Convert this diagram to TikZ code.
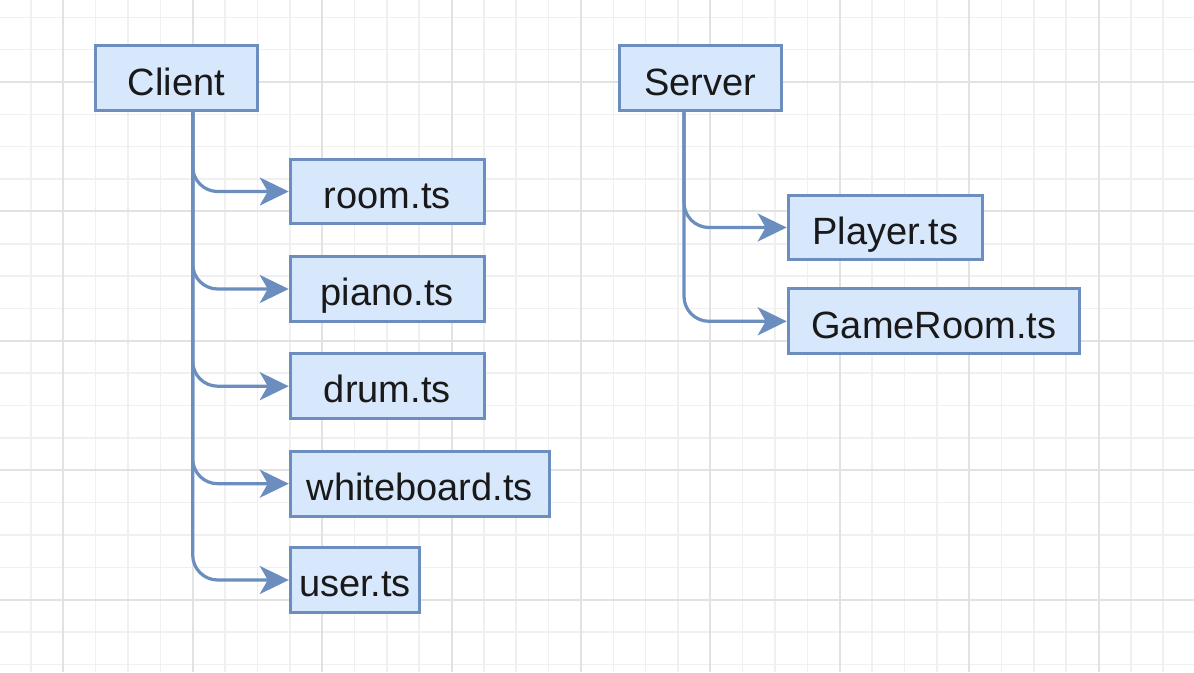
\documentclass[tikz,border=0pt]{standalone}
\usepackage{fontspec}
\setmainfont{Liberation Sans}
\usetikzlibrary{arrows.meta}
\definecolor{boxfill}{HTML}{D7E7FC}
\definecolor{boxline}{HTML}{6C8EBF}
\definecolor{gridminor}{HTML}{F0F0F0}
\definecolor{gridmajor}{HTML}{E2E2E2}
\begin{document}
\begin{tikzpicture}[x=1pt,y=-1pt,
  filebox/.style={draw=boxline, fill=boxfill, line width=3pt, inner sep=0pt,
    minimum height=64.7pt, text height=38.7pt, text depth=5.3pt,
    font=\fontsize{38}{44}\selectfont, text=black!90},
  conn/.style={draw=boxline, line width=3.2pt, rounded corners=25pt,
    -{Stealth[length=29pt,width=28pt,inset=8pt]}},
  minorline/.style={draw=gridminor, line width=1.5pt},
  majorline/.style={draw=gridmajor, line width=2pt}]
\useasboundingbox (0,0) rectangle (1194,672);
\fill[white] (0,0) rectangle (1194,672);
\begin{scope}
\clip (0,0) rectangle (1194,672);
\foreach \i in {-1,...,35} {\draw[minorline] ({63.3+\i*32.35},0) -- ({63.3+\i*32.35},672);}
\foreach \j in {-2,...,18} {\draw[minorline] (0,{82+\j*32.35}) -- (1194,{82+\j*32.35});}
\foreach \i in {0,...,8} {\draw[majorline] ({63.3+\i*129.4},0) -- ({63.3+\i*129.4},672);}
\foreach \j in {0,...,4} {\draw[majorline] (0,{82+\j*129.4}) -- (1194,{82+\j*129.4});}
\end{scope}

\node[filebox, minimum width=161.75pt] (client) at (176.3,78.3) {Client};
\node[filebox, minimum width=161.75pt] (server) at (700.3,78.3) {Server};
\node[filebox, minimum width=194.1pt] (room) at (387.3,191.5) {room.ts};
\node[filebox, minimum width=194.1pt] (piano) at (387.3,289.0) {piano.ts};
\node[filebox, minimum width=194.1pt] (drum) at (387.3,386.2) {drum.ts};
\node[filebox, minimum width=258.8pt] (whiteboard) at (419.7,483.7) {whiteboard.ts};
\node[filebox, minimum width=129.4pt] (user) at (355.0,580.0) {user.ts};
\node[filebox, minimum width=194.1pt] (player) at (885.2,227.5) {Player.ts};
\node[filebox, minimum width=291.15pt] (gameroom) at (933.8,321.3) {GameRoom.ts};

\foreach \t in {room,piano,drum,whiteboard,user}
  {\draw[conn] ([xshift=16.4pt]client.south) |- (\t.west);}
\foreach \t in {player,gameroom}
  {\draw[conn] ([xshift=-16.3pt]server.south) |- (\t.west);}
\end{tikzpicture}
\end{document}
